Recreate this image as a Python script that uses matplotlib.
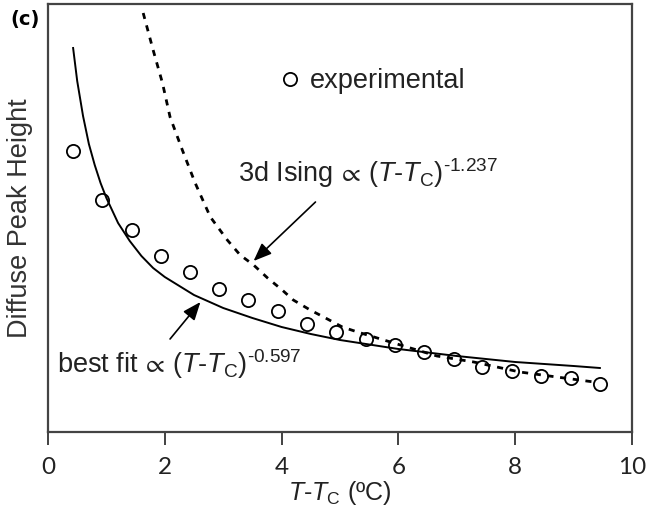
import matplotlib
matplotlib.use('Agg')
import matplotlib.pyplot as plt

# data (y in arbitrary units, 0 = axis bottom)
exp_x = [0.43, 0.93, 1.44, 1.94, 2.44, 2.93, 3.42, 3.93, 4.44, 4.94,
         5.45, 5.95, 6.44, 6.95, 7.44, 7.95, 8.45, 8.95, 9.45]
exp_y = [281, 232, 202, 176, 160, 143, 132, 121, 108, 100,
         93, 87, 80, 73, 65, 61, 56, 54, 48]

# best fit curve (solid)
fit_x = [0.43, 0.5, 0.6, 0.7, 0.8, 0.9, 1.0, 1.2, 1.4, 1.6, 1.8, 2.0,
         2.5, 3.0, 3.5, 4.0, 4.5, 5.0, 6.0, 7.0, 8.0, 9.0, 9.45]
fit_y = [384, 351, 316, 288, 267, 249, 234, 209, 191, 176, 164, 155,
         137, 124, 114, 105, 98, 92, 83, 76, 70, 66, 64]

# 3d Ising curve (dashed)
ising_x = [1.63, 1.80, 1.96, 2.09, 2.30, 2.52, 2.78, 3.07, 3.29, 3.52,
           3.76, 4.01, 4.20, 4.49, 4.72, 5.04, 5.30, 5.92, 6.66, 7.29,
           8.08, 8.71, 9.35]
ising_y = [419, 382, 349, 315, 282, 249, 215, 192, 177, 167,
           154, 142, 132, 122, 115, 105, 100, 89, 76, 70,
           60, 55, 50]

xticks = [0, 2, 4, 6, 8, 10]

plt.rcParams['mathtext.fontset'] = 'custom'
plt.rcParams['mathtext.rm'] = 'Liberation Sans'
plt.rcParams['mathtext.it'] = 'Liberation Sans:italic'
plt.rcParams['mathtext.bf'] = 'Liberation Sans:bold'
plt.rcParams['mathtext.fallback'] = 'stixsans'

txt_font = 'Liberation Sans'

fig = plt.figure(figsize=(6.46, 5.14), dpi=100)
ax = fig.add_axes([48 / 646, 82 / 514, 584 / 646, 428 / 514])

ax.plot(exp_x, exp_y, 'o', ms=9.5, mfc='white', mec='black', mew=1.3,
        ls='none', zorder=2, label='experimental')
ax.plot(fit_x, fit_y, '-', color='black', lw=1.4, zorder=3)
ax.plot(ising_x, ising_y, color='black', lw=2.0, dashes=(2.2, 2.4), zorder=3)

ax.set_xlim(0, 10)
ax.set_ylim(0, 428)
ax.set_xticks(xticks)
ax.set_yticks([])
ax.tick_params(axis='x', direction='out', length=9, width=1.3, pad=9,
               labelsize=17.5, color='#333333')
for lbl in ax.get_xticklabels():
    lbl.set_family('Lato')
    lbl.set_color('#222222')

for sp in ax.spines.values():
    sp.set_color('#444444')
    sp.set_linewidth(1.6)

ax.set_ylabel('Diffuse Peak Height', fontsize=19.5, family=txt_font,
              color='#333333', labelpad=11)
ax.set_xlabel(r'$T$-$T_{\rm C}$ (ºC)', fontsize=18, family=txt_font,
              color='#222222', labelpad=1)

leg = ax.legend(loc='center left', bbox_to_anchor=(0.391, 0.82), frameon=False,
                handlelength=1.0, handletextpad=0.25, borderpad=0, borderaxespad=0,
                prop={'family': 'Liberation Sans', 'size': 19.5})
for t in leg.get_texts():
    t.set_color('#222222')

ax.text(3.26, 250, r'3d Ising$\,\propto\,$($T$-$T_{\rm C}$)$^{\text{-1.237}}$', fontsize=19.5,
        family=txt_font, color='#222222', va='baseline', ha='left')
ax.text(0.15, 59, r'best fit$\,\propto\,$($T$-$T_{\rm C}$)$^{\text{-0.597}}$', fontsize=19.5,
        family=txt_font, color='#222222', va='baseline', ha='left')

arrow = dict(arrowstyle='-|>,head_length=0.55,head_width=0.22',
             mutation_scale=20, lw=1.2, color='black', shrinkA=0, shrinkB=0)
ax.annotate('', xy=(3.52, 171), xytext=(4.58, 230), arrowprops=arrow)
ax.annotate('', xy=(2.61, 130), xytext=(2.09, 93), arrowprops=arrow)

fig.text(10 / 646, 1 - 20 / 514, '(c)', fontsize=14, fontweight='bold',
         family='DejaVu Sans', va='center', ha='left')

fig.savefig('out.png', dpi=100)
